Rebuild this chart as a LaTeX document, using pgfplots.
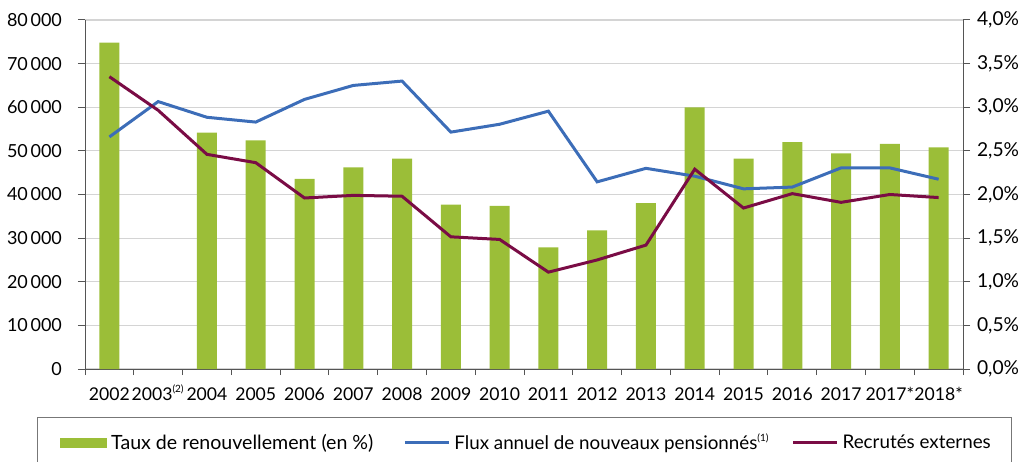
\documentclass[border=0pt]{standalone}
\usepackage{fontspec}
\setmainfont{Lato}
\usepackage{pgfplots}
\pgfplotsset{compat=1.18}

\definecolor{barg}{HTML}{9BBE38}
\definecolor{fluxblue}{HTML}{3C6DB8}
\definecolor{recmar}{HTML}{7A0C45}
\definecolor{gridg}{HTML}{D4D4D4}
\definecolor{axg}{HTML}{555555}

\pgfplotsset{
  every axis/.append style={
    scale only axis, width=439pt, height=174.5pt,
    xmin=-0.5, xmax=17.5,
    font=\fontsize{9.6}{11}\selectfont,
    /pgf/number format/assume math mode=true,
    tick style={axg, line width=0.5pt},
    axis line style={axg, line width=0.5pt},
  }
}

\begin{document}
\begin{tikzpicture}
\useasboundingbox (-42.5pt,-46pt) rectangle (473pt,184.5pt);
\clip (-42.5pt,-46pt) rectangle (473pt,184.5pt);

% bars: renewal rate on the right axis
\begin{axis}[
    axis y line*=right, axis x line*=bottom,
    ymin=0, ymax=4,
    ytick={0,0.5,...,4},
    yticklabel={\pgfmathprintnumber[fixed,fixed zerofill,precision=1,use comma]{\tick}\%},
    ytick align=outside, major tick length=3.5pt,
    ymajorgrids, grid style={gridg, line width=0.6pt},
    xtick={0,...,17},
    xticklabels={2002,2003\textsuperscript{\fontsize{5}{6}\selectfont(2)},2004,2005,2006,2007,2008,2009,2010,2011,2012,2013,2014,2015,2016,2017,2017*,2018*},
    major x tick style={draw=none},
    minor xtick={-0.5,0.5,...,17.5},
    xtick align=outside, minor tick length=3pt,
    xticklabel style={font=\fontsize{8.8}{11}\selectfont, inner xsep=0pt,
      text height=7pt, text depth=1pt, yshift=-1.5pt},
]
\addplot[ybar, bar width=10pt, fill=barg, draw=none] coordinates {
  (0,3.74) (2,2.71) (3,2.62) (4,2.18) (5,2.31) (6,2.41) (7,1.885) (8,1.87)
  (9,1.395) (10,1.59) (11,1.90) (12,3.0) (13,2.41) (14,2.60) (15,2.47)
  (16,2.58) (17,2.54)
};
\end{axis}

% lines: left axis
\begin{axis}[
    axis y line*=left, axis x line=none,
    ymin=0, ymax=80000,
    ytick={0,10000,...,80000},
    scaled y ticks=false,
    /pgf/number format/1000 sep={\hspace{0.15em}},
    yticklabel style={font=\fontsize{9}{11}\selectfont, xshift=-4.5pt},
    ytick align=outside, major tick length=3.5pt,
    legend image code/.code={\draw[#1] (0pt,0pt) -- (22pt,0pt);},
    legend columns=3,
    legend style={draw=none, fill=none, inner sep=0pt,
      at={(axis description cs:-0.0285,-0.212)}, anchor=west,
      font=\fontsize{9.8}{11}\selectfont,
      /tikz/every even column/.append style={column sep=3pt}},
]
\addlegendimage{legend image code/.code={\fill[barg] (0pt,-2.25pt) rectangle (23pt,2.25pt);}}
\addlegendentry{Taux de renouvellement (en \%)\hspace*{10pt}}
\addplot[fluxblue, line width=1.5pt] coordinates {
  (0,53200) (1,61300) (2,57700) (3,56600) (4,61800) (5,65000) (6,66000)
  (7,54300) (8,56100) (9,59100) (10,42900) (11,46000) (12,44200) (13,41300)
  (14,41700) (15,46100) (16,46100) (17,43500)
};
\addlegendentry{\fontsize{9.4}{11}\selectfont Flux annuel de nouveaux pensionnés\textsuperscript{\fontsize{5}{6}\selectfont(1)}\hspace*{6pt}}
\addplot[recmar, line width=1.5pt] coordinates {
  (0,67000) (1,59300) (2,49200) (3,47300) (4,39200) (5,39800) (6,39600)
  (7,30300) (8,29700) (9,22200) (10,25000) (11,28400) (12,45800) (13,36900)
  (14,40200) (15,38200) (16,40000) (17,39300)
};
\addlegendentry{\fontsize{9.4}{11}\selectfont Recrutés externes}
\end{axis}

\draw[axg!80, line width=0.5pt] (-23.5pt,-60pt) rectangle (463pt,-24pt);
\end{tikzpicture}
\end{document}
